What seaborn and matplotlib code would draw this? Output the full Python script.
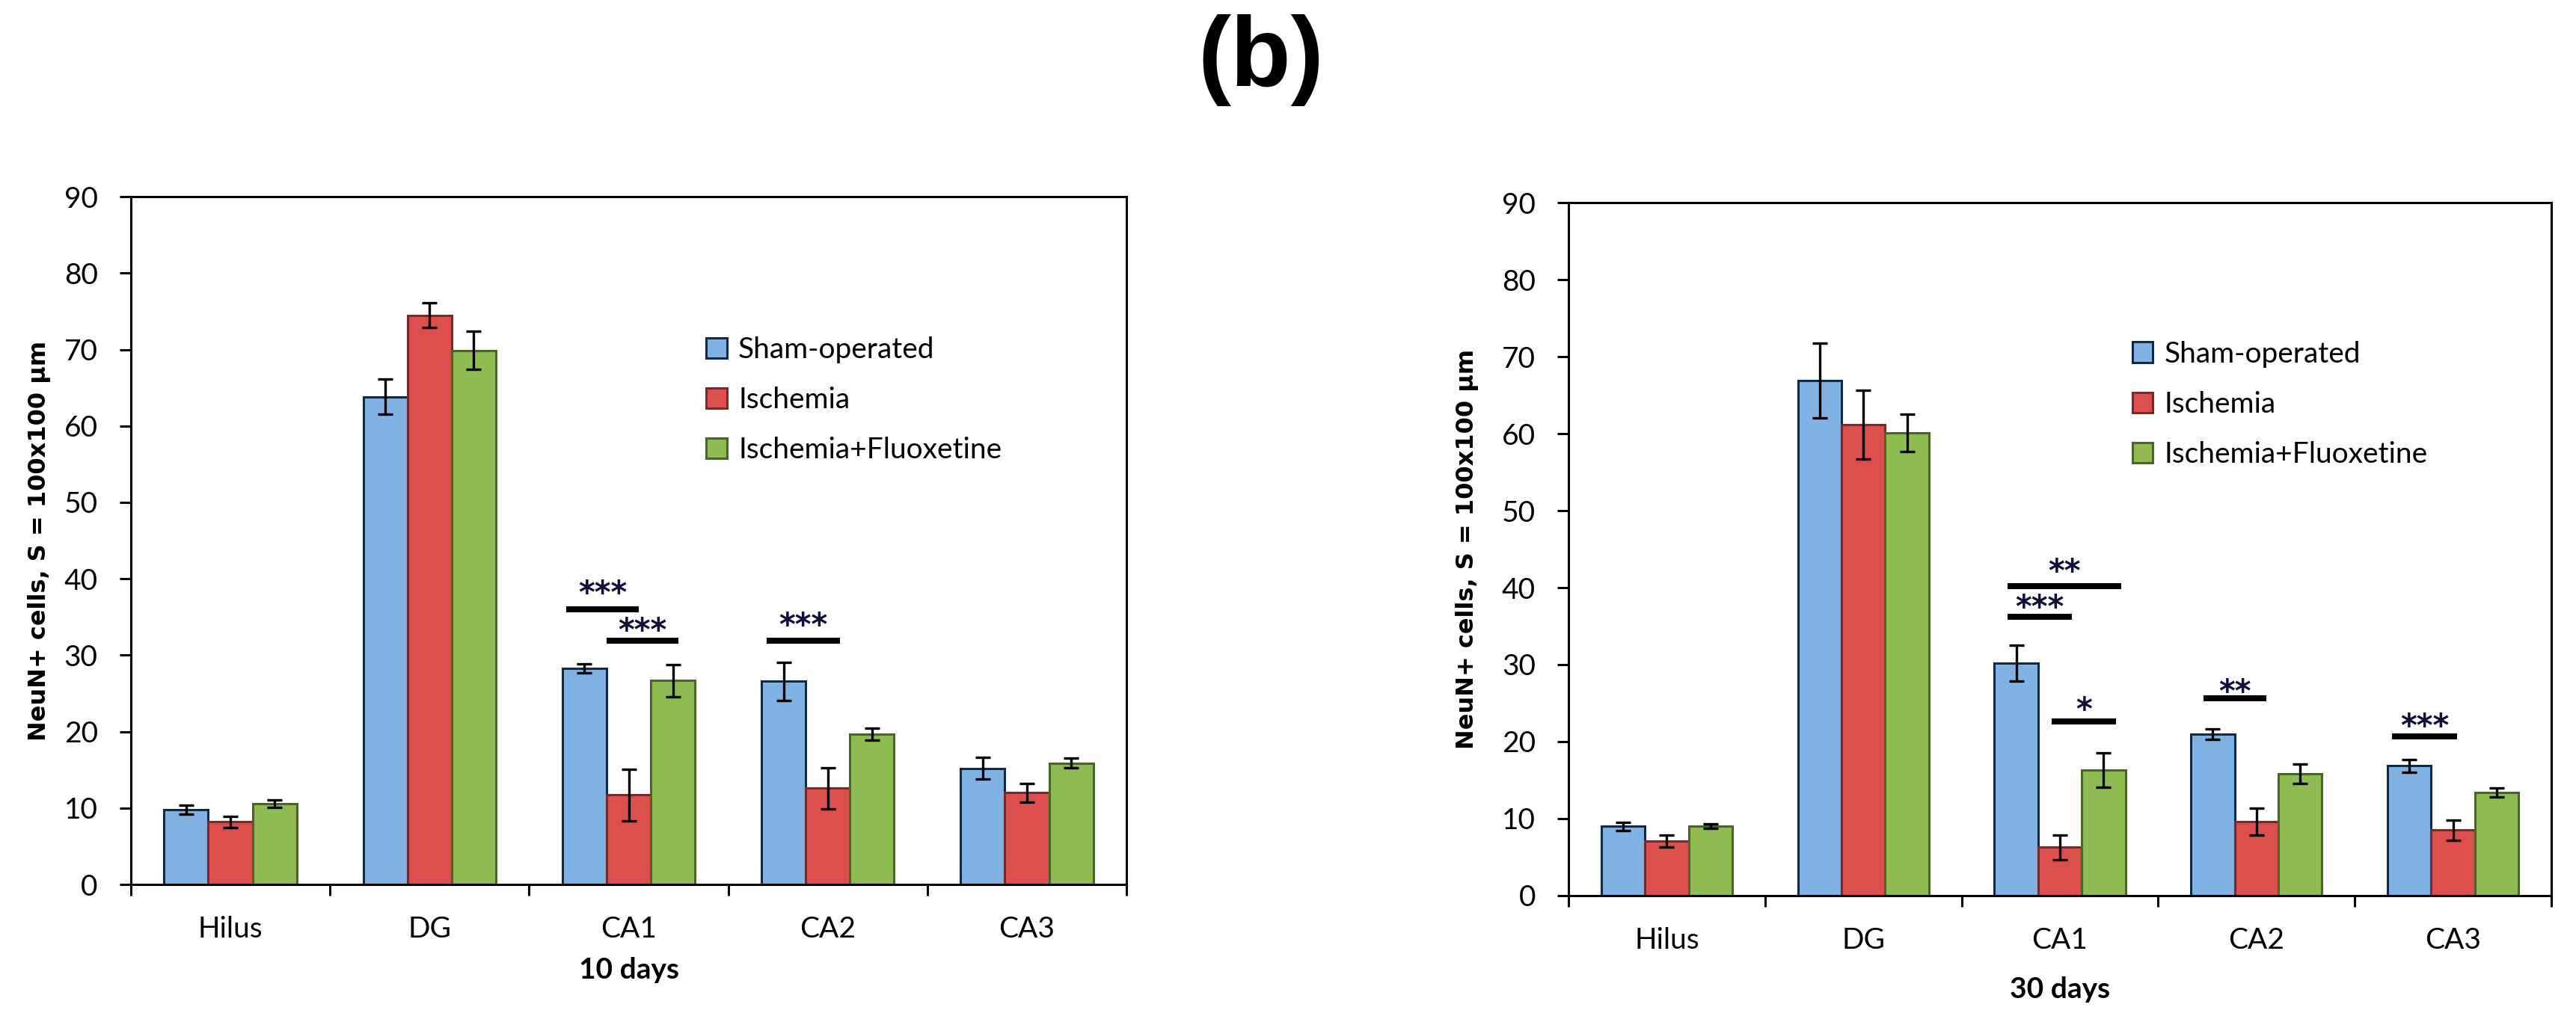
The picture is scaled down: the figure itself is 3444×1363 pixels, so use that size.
import matplotlib
matplotlib.use("Agg")
import matplotlib.pyplot as plt
import seaborn as sns
import pandas as pd
import numpy as np

regions = ["Hilus", "DG", "CA1", "CA2", "CA3"]
groups = ["Sham-operated", "Ischemia", "Ischemia+Fluoxetine"]
colors = ["#80B2E4", "#DC4F4C", "#8EBC50"]
edge_colors = ["#0F2B4C", "#7A2828", "#4B6526"]

# 10 days
sham_10 = [9.8, 63.8, 28.3, 26.6, 15.2]
isch_10 = [8.2, 74.5, 11.7, 12.6, 12.0]
fluox_10 = [10.6, 69.9, 26.7, 19.7, 15.9]
sham_10_err = [0.6, 2.3, 0.6, 2.5, 1.4]
isch_10_err = [0.75, 1.65, 3.4, 2.7, 1.25]
fluox_10_err = [0.5, 2.5, 2.1, 0.8, 0.65]

# 30 days
sham_30 = [9.0, 66.9, 30.2, 20.95, 16.85]
isch_30 = [7.1, 61.2, 6.3, 9.6, 8.5]
fluox_30 = [9.0, 60.1, 16.3, 15.8, 13.4]
sham_30_err = [0.55, 4.9, 2.3, 0.7, 0.8]
isch_30_err = [0.8, 4.45, 1.6, 1.75, 1.35]
fluox_30_err = [0.3, 2.4, 2.2, 1.25, 0.55]

# significance marks: stars, bar start/end (category units), bar height, star height
sig_10_text = ["***", "***", "***"]
sig_10_x0 = [1.686, 1.889, 2.693]
sig_10_x1 = [2.051, 2.25, 3.061]
sig_10_y = [36.0, 31.9, 31.9]
sig_10_ty = [38.9, 34.0, 34.7]

sig_30_text = ["**", "***", "*", "**", "***"]
sig_30_x0 = [1.734, 1.734, 1.96, 2.73, 3.69]
sig_30_x1 = [2.312, 2.06, 2.285, 3.05, 4.02]
sig_30_y = [40.2, 36.2, 22.6, 25.6, 20.7]
sig_30_ty = [42.9, 38.2, 24.9, 27.3, 22.75]

sns.set_style("white")
plt.rcParams["font.family"] = ["Lato", "DejaVu Sans"]
for k in ["text.color", "axes.labelcolor", "xtick.color", "ytick.color", "axes.edgecolor"]:
    plt.rcParams[k] = "black"

FS = 28


def draw_panel(ax, sham, isch, fluox, errs, xlabel, sig, leg_xy, ylab_x, xlab_y):
    df = pd.DataFrame({
        "region": regions * 3,
        "group": np.repeat(groups, len(regions)),
        "value": sham + isch + fluox,
    })
    sns.barplot(data=df, x="region", y="value", hue="group", order=regions,
                hue_order=groups, palette=colors, saturation=1, width=2 / 3,
                errorbar=None, legend=False, ax=ax)
    bar_sets = list(ax.containers)
    for bars, ec, err in zip(bar_sets, edge_colors, errs):
        for b in bars:
            b.set_edgecolor(ec)
            b.set_linewidth(2.2)
        xs = [b.get_x() + b.get_width() / 2 for b in bars]
        hs = [b.get_height() for b in bars]
        ax.errorbar(xs, hs, yerr=err, fmt="none", ecolor="black", elinewidth=2.4,
                    capsize=7, capthick=2.4, zorder=5)

    for txt, x0, x1, y, ty in zip(*sig):
        ax.plot([x0, x1], [y, y], color="black", lw=5.8, solid_capstyle="butt")
        ax.annotate(txt, ((x0 + x1) / 2, ty), xytext=(0, -7), textcoords="offset points",
                    ha="center", va="center", fontsize=30, fontweight="bold",
                    family="DejaVu Sans", color="#10103a")

    ax.set_xlim(-0.5, 4.5)
    ax.set_ylim(0, 90)
    ax.set_yticks(range(0, 91, 10))
    ax.set_xticks(np.arange(-0.5, 5, 1), minor=True)
    ax.tick_params(axis="y", length=10.8, width=2.2, direction="out", pad=21, labelsize=FS, left=True)
    ax.tick_params(axis="x", which="major", length=0, pad=30, labelsize=FS)
    ax.tick_params(axis="x", which="minor", length=10.8, width=2.2, direction="out", bottom=True)
    for s in ax.spines.values():
        s.set_linewidth(2.2)
        s.set_color("black")

    ax.set_ylabel("NeuN+ cells, S = 100x100 µm", family="DejaVu Sans",
                  fontweight="bold", fontsize=23)
    ax.yaxis.set_label_coords(ylab_x, 0.5)
    ax.set_xlabel(xlabel, fontweight="bold", fontsize=FS)
    ax.xaxis.set_label_coords(0.5, xlab_y)

    ax.legend(bar_sets, groups, loc="center left", bbox_to_anchor=leg_xy, frameon=False,
              fontsize=FS, handlelength=0.7, handleheight=0.7, handletextpad=0.4,
              labelspacing=0.8, borderpad=0, borderaxespad=0)


fig = plt.figure(figsize=(34.44, 13.63), dpi=100)
ax1 = fig.add_axes([0.0508, 0.132, 0.3865, 0.675])
ax2 = fig.add_axes([0.6089, 0.1211, 0.3815, 0.680])

draw_panel(ax1, sham_10, isch_10, fluox_10, [sham_10_err, isch_10_err, fluox_10_err],
           "10 days", (sig_10_text, sig_10_x0, sig_10_x1, sig_10_y, sig_10_ty),
           (0.578, 0.704), -0.080, -0.105)
draw_panel(ax2, sham_30, isch_30, fluox_30, [sham_30_err, isch_30_err, fluox_30_err],
           "30 days", (sig_30_text, sig_30_x0, sig_30_x1, sig_30_y, sig_30_ty),
           (0.574, 0.709), -0.091, -0.1165)

fig.text(0.4895, 0.941, "(b)", ha="center", va="center", fontsize=95,
         fontweight="bold", family="Liberation Sans")

fig.savefig("out.png", dpi=100, facecolor="white")
